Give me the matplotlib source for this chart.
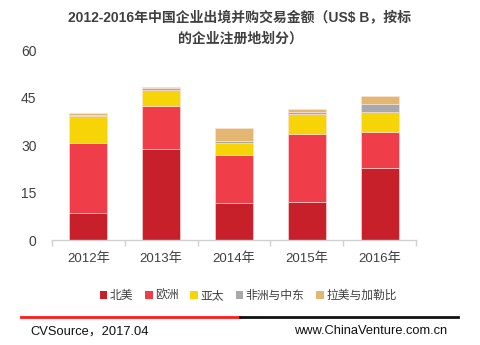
import matplotlib
matplotlib.use("Agg")
import matplotlib.pyplot as plt
from matplotlib.patches import Patch
from matplotlib.lines import Line2D

plt.rcParams['font.family'] = ['Liberation Sans', 'Noto Sans CJK SC', 'DejaVu Sans']

years = ["2012年", "2013年", "2014年", "2015年", "2016年"]
series_names = ["北美", "欧洲", "亚太", "非洲与中东", "拉美与加勒比"]
north_america = [8.7, 28.9, 11.8, 12.0, 22.9]
europe = [21.9, 13.4, 15.2, 21.6, 11.3]
asia_pacific = [8.5, 5.0, 3.8, 6.1, 6.1]
africa_mideast = [0.4, 0.6, 0.5, 0.6, 2.8]
latam = [0.7, 0.5, 4.1, 1.1, 2.5]
colors = ["#C8202A", "#EF3E4A", "#F7D408", "#A7A9AC", "#E3B771"]
yticks = [0, 15, 30, 45, 60]

fig = plt.figure(figsize=(4.8, 3.45), dpi=100)
ax = fig.add_axes([0.108, 0.304, 0.759, 0.551])

data = [north_america, europe, asia_pacific, africa_mideast, latam]
x = list(range(len(years)))
bottom = [0.0] * len(years)
for vals, c in zip(data, colors):
    ax.bar(x, vals, width=0.52, bottom=bottom, color=c, edgecolor="#fbe3e3", linewidth=0.4)
    bottom = [b + v for b, v in zip(bottom, vals)]

ax.set_xlim(-0.5, len(years) - 0.5)
ax.set_ylim(0, 60)
ax.set_yticks(yticks)
ax.set_yticklabels([str(t) for t in yticks], fontsize=10, color="#404040")
ax.set_xticks(x)
ax.set_xticklabels(years, fontsize=9.5, color="#404040")
ax.set_xticks([i + 0.5 for i in [-1] + x], minor=True)
ax.tick_params(axis='x', which='major', length=0, pad=9)
ax.tick_params(axis='x', which='minor', length=4, color="#d0d0d0", width=1)
ax.tick_params(axis='y', length=0, pad=11)
for s in ["top", "right", "left"]:
    ax.spines[s].set_visible(False)
ax.spines["bottom"].set_color("#d0d0d0")
ax.spines["bottom"].set_linewidth(1)

fig.text(0.5, 0.947, "2012-2016年中国企业出境并购交易金额（US$ B，按标", ha="center", va="center",
         fontsize=10, fontweight="bold", color="#404040")
fig.text(0.5, 0.889, "的企业注册地划分）", ha="center", va="center",
         fontsize=10, fontweight="bold", color="#404040")

handles = [Patch(facecolor=c, edgecolor="none") for c in colors]
fig.legend(handles, series_names, loc="center", bbox_to_anchor=(0.517, 0.142), ncol=5,
           frameon=False, fontsize=8.5, handlelength=0.65, handleheight=0.65,
           handletextpad=0.2, columnspacing=1.0, labelcolor="#404040")

fig.add_artist(Line2D([0.044, 0.5], [0.081, 0.081], color="#FF1A1A", linewidth=2, transform=fig.transFigure))
fig.add_artist(Line2D([0.5, 0.954], [0.081, 0.081], color="#111111", linewidth=2, transform=fig.transFigure))
fig.text(0.063, 0.04, "CVSource，2017.04", ha="left", va="center", fontsize=9.3, color="#111111")
fig.text(0.932, 0.04, "www.ChinaVenture.com.cn", ha="right", va="center", fontsize=9.3, color="#111111")

fig.savefig("out.png", dpi=100)
